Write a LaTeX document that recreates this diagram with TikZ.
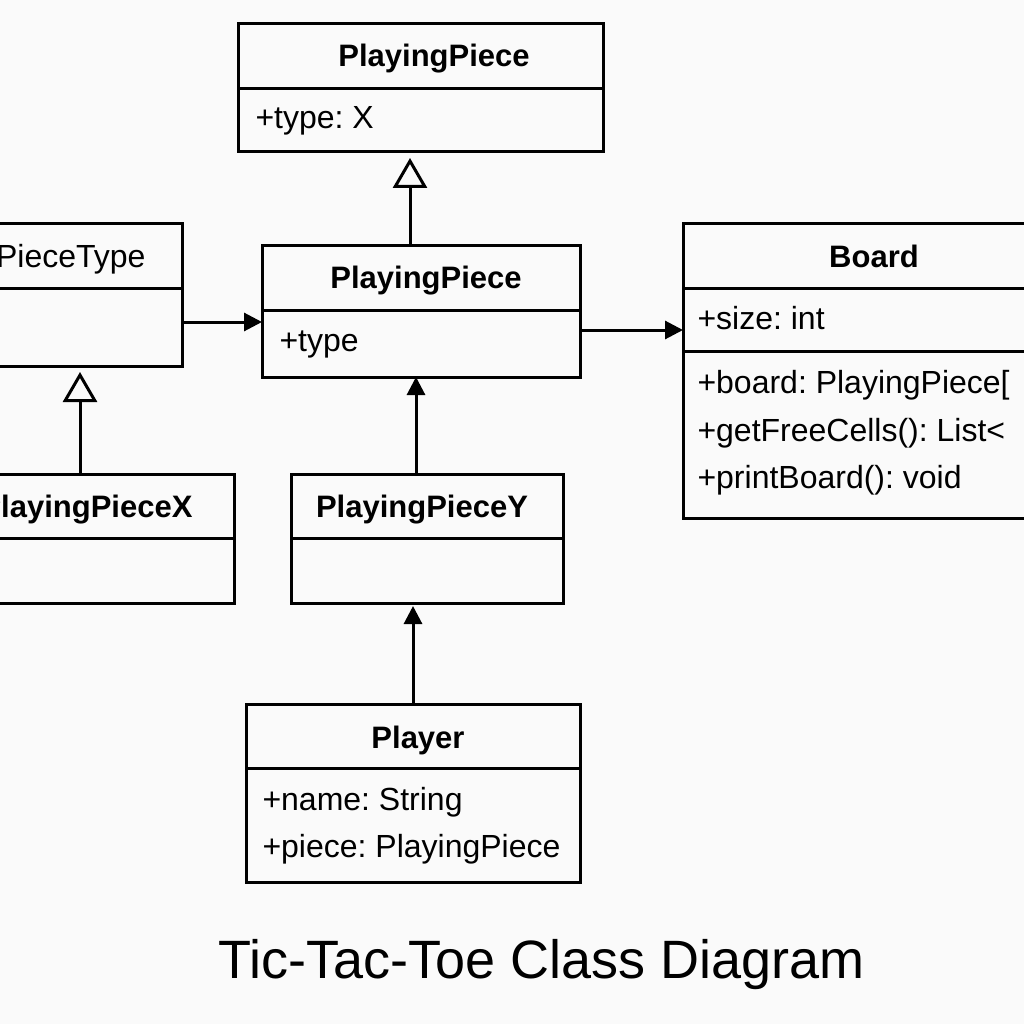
\documentclass[tikz,border=0pt]{standalone}
\usepackage{fontspec}
\setmainfont{Liberation Sans}
\usetikzlibrary{arrows.meta}
\definecolor{bg}{RGB}{250,250,250}
\begin{document}
\frenchspacing
\begin{tikzpicture}[x=1pt,y=-1pt, line width=3pt,
  box/.style={draw, rectangle, inner sep=0pt, outer sep=0pt, line width=3pt},
  ttl/.style={font=\fontsize{31}{31}\selectfont\bfseries, anchor=base, inner sep=0pt},
  attr/.style={font=\fontsize{32}{32}\selectfont, anchor=base west, inner sep=0pt},
  assoc/.style={-{Triangle[length=18pt,width=18pt]}},
  gen/.style={-{Triangle[open,length=30pt,width=34pt,fill=bg]}, shorten >=6pt}]
\useasboundingbox (0,0) rectangle (1024,1024);
\clip (0,0) rectangle (1024,1024);
\fill[bg] (0,0) rectangle (1024,1024);

% top PlayingPiece
\node[box, minimum width=365pt, minimum height=128pt] (pp1) at (420.5,88) {};
\draw (pp1.west |- 0,89) -- (pp1.east |- 0,89);
\node[ttl] (pp1t) at (434,67) {PlayingPiece};
\node[attr] (pp1a) at (254,129) {+type: X};

% PieceType
\node[box, minimum width=282pt, minimum height=142pt] (pt) at (41,295) {};
\draw (pt.west |- 0,288) -- (pt.east |- 0,288);
\node[font=\fontsize{32}{32}\selectfont, anchor=base east, inner sep=0pt] (ptt) at (147,267) {PieceType};

% middle PlayingPiece
\node[box, minimum width=318pt, minimum height=132pt] (pp2) at (421,311) {};
\draw (pp2.west |- 0,310) -- (pp2.east |- 0,310);
\node[ttl] (pp2t) at (426,288) {PlayingPiece};
\node[attr] (pp2a) at (278,351) {+type};

% Board
\node[box, minimum width=382pt, minimum height=294pt] (board) at (874,371) {};
\draw (board.west |- 0,288) -- (board.east |- 0,288);
\draw (board.west |- 0,351) -- (board.east |- 0,351);
\node[ttl] (boardt) at (874,267) {Board};
\node[attr] (boarda) at (696,329) {+size: int};
\node[attr] (boardb) at (696,393) {+board: PlayingPiece[};
\node[attr] (boardc) at (696,441) {+getFreeCells(): List<};
\node[attr] (boardd) at (696,488) {+printBoard(): void};

% PlayingPieceX
\node[box, minimum width=314pt, minimum height=129pt] (ppx) at (77,538.5) {};
\draw (ppx.west |- 0,538) -- (ppx.east |- 0,538);
\node[font=\fontsize{31}{31}\selectfont\bfseries, anchor=base east, inner sep=0pt] (ppxt) at (194,517) {PlayingPieceX};

% PlayingPieceY
\node[box, minimum width=272pt, minimum height=129pt] (ppy) at (427,538.5) {};
\draw (ppy.west |- 0,538) -- (ppy.east |- 0,538);
\node[ttl] (ppyt) at (422,517) {PlayingPieceY};

% Player
\node[box, minimum width=334pt, minimum height=178pt] (player) at (413,793) {};
\draw (player.west |- 0,768) -- (player.east |- 0,768);
\node[ttl] (playert) at (418,748) {Player};
\node[attr] (playera) at (261,810) {+name: String};
\node[attr] (playerb) at (261,857) {+piece: PlayingPiece};

% connectors
\draw[gen] (pp2.north -| 410,0) -- (pp1.south -| 410,0);
\draw[gen] (ppx.north -| 80,0) -- (pt.south -| 80,0);
\draw[assoc] (pt.east |- 0,322) -- (pp2.west |- 0,322);
\draw[assoc] (pp2.east |- 0,330) -- (board.west |- 0,330);
\draw[assoc] (ppy.north -| 416,0) -- (pp2.south -| 416,0);
\draw[assoc, shorten >=3pt] (player.north -| 413,0) -- (ppy.south -| 413,0);

% title
\node[font=\fontsize{54}{54}\selectfont, anchor=base, inner sep=0pt] (title) at (542,978) {Tic-Tac-Toe Class Diagram};
\end{tikzpicture}
\end{document}
